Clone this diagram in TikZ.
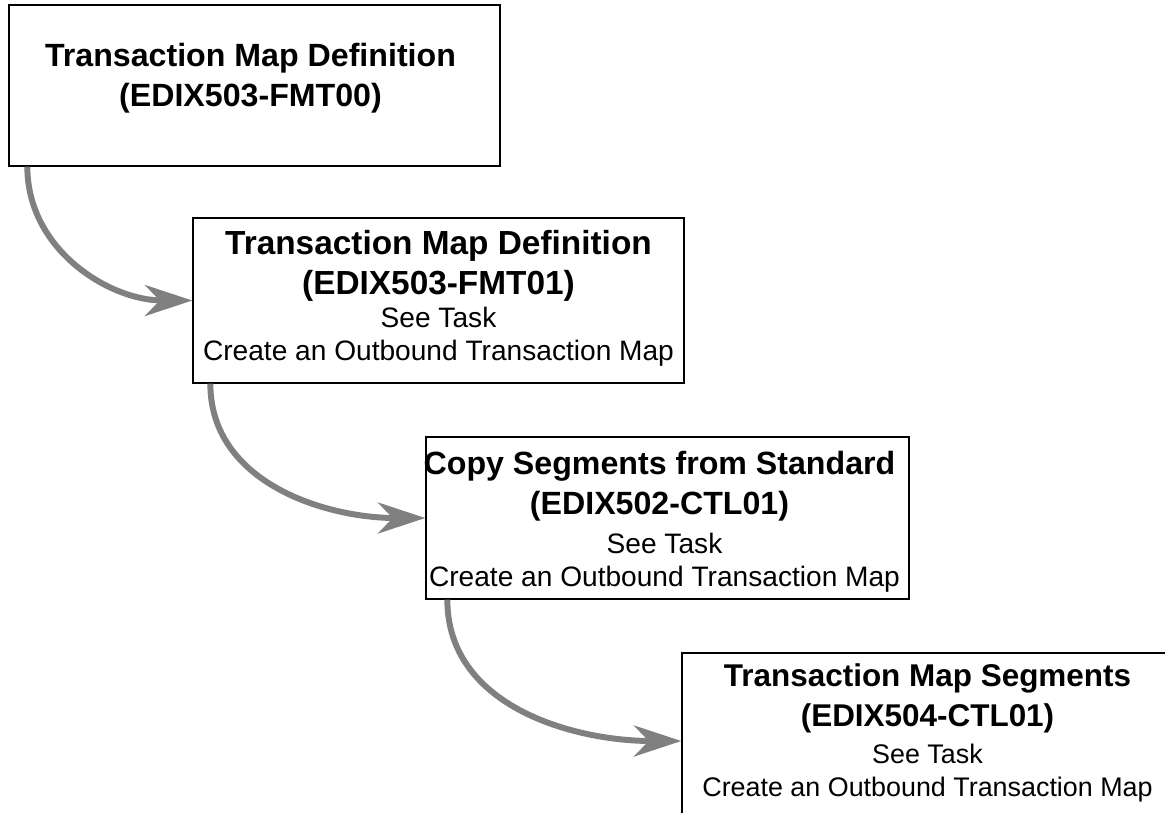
\documentclass[tikz,border=0pt]{standalone}
\usepackage{fontspec}
\setmainfont{Liberation Sans}
\usetikzlibrary{arrows.meta}
\definecolor{flowgray}{HTML}{808080}

\begin{document}
\begin{tikzpicture}[x=0.02cm,y=-0.02cm,
    box/.style={draw,line width=0.8pt,minimum width=9.82cm,inner sep=0pt},
    title/.style={anchor=base,align=center,inner sep=0pt,font=\fontsize{#1}{22.8}\selectfont\bfseries},
    title/.default=19,
    task/.style={anchor=base,align=center,inner sep=0pt,font=\fontsize{#1}{18.4}\selectfont},
    task/.default=16,
    flow/.style={draw=flowgray,line width=3.4pt,-{Stealth[length=0.95cm,width=0.62cm,inset=0.3cm]}}]
  \useasboundingbox (0,0) rectangle (1165,812);
  \clip (0,0) rectangle (1165,812);

  % boxes
  \node[box,minimum height=3.22cm] (fmt00) at (254.5,85.5) {};
  \node[box,minimum height=3.3cm] (fmt01) at (438.5,300.5) {};
  \node[box,minimum width=9.66cm,minimum height=3.24cm] (ctl502) at (667.5,518) {};
  \node[box,minimum height=3.52cm] (ctl504) at (927.5,741) {};

  % texts
  \node[title=18.3] (fmt00-title) at ([xshift=-0.08cm,yshift=-2.04cm]fmt00.north) {Transaction Map Definition\\(EDIX503-FMT00)};
  \node[title] (fmt01-title) at ([yshift=-1.54cm]fmt01.north) {Transaction Map Definition\\(EDIX503-FMT01)};
  \node[task] (fmt01-task) at ([yshift=-2.86cm]fmt01.north) {See Task\\Create an Outbound Transaction Map};
  \node[title=18.3] (ctl502-title) at ([xshift=-0.16cm,yshift=-1.56cm]ctl502.north) {Copy Segments from Standard\\(EDIX502-CTL01)};
  \node[task] (ctl502-task) at ([xshift=-0.06cm,yshift=-3.0cm]ctl502.north) {See Task\\Create an Outbound Transaction Map};
  \node[title=17.9] (ctl504-title) at ([yshift=-1.48cm]ctl504.north) {Transaction Map Segments\\(EDIX504-CTL01)};
  \node[task=15.3] (ctl504-task) at ([yshift=-2.88cm]ctl504.north) {See Task\\Create an Outbound Transaction Map};

  % flow
  \draw[flow] ([xshift=0.38cm]fmt00.south west) to[out=-90,in=180] (fmt01.west);
  \draw[flow] ([xshift=0.36cm]fmt01.south west) to[out=-90,in=180] (ctl502.west);
  \draw[flow] ([xshift=0.44cm]ctl502.south west) to[out=-90,in=180] (ctl504.west);
\end{tikzpicture}
\end{document}
